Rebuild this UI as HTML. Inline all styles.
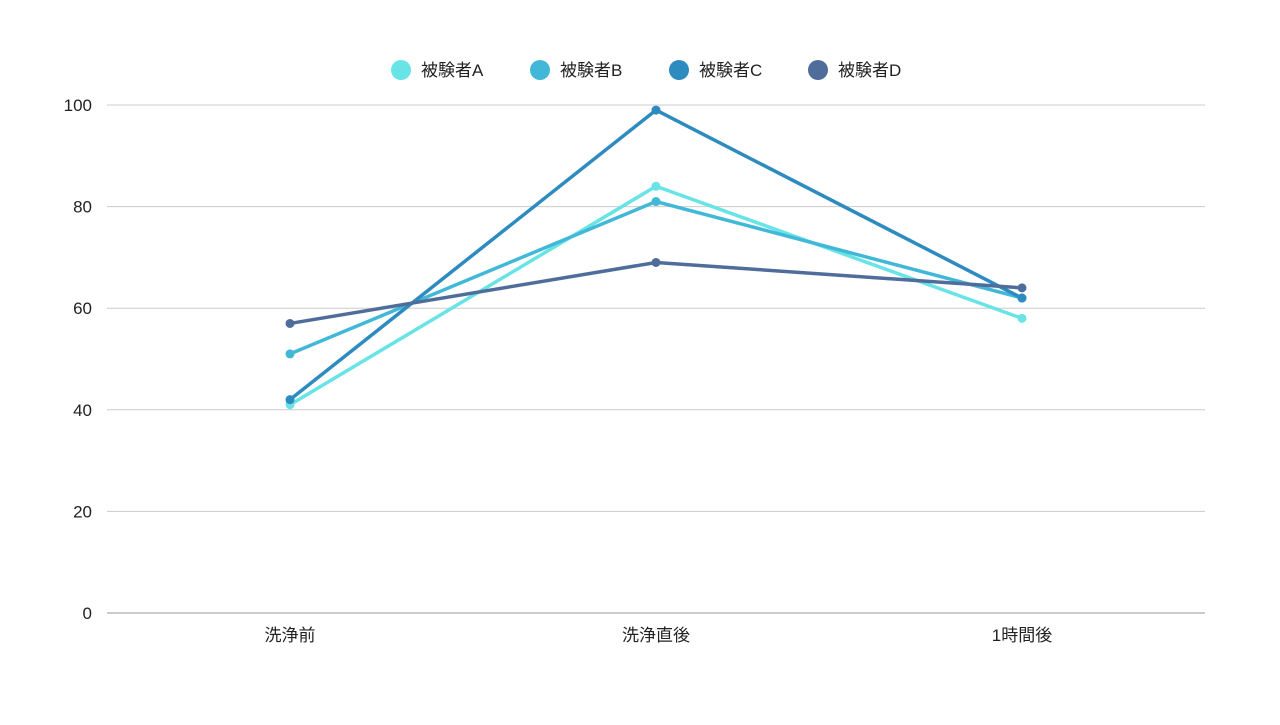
<!DOCTYPE html>
<html><head><meta charset="utf-8">
<style>
body{margin:0;background:#fff;font-family:"Liberation Sans","Noto Sans CJK JP",sans-serif;}
svg text{font-family:"Liberation Sans","Noto Sans CJK JP",sans-serif;}
</style></head>
<body>
<svg id="chart" width="1280" height="720" xmlns="http://www.w3.org/2000/svg"></svg>
<script>
const categories = ["洗浄前","洗浄直後","1時間後"];
const seriesNames = ["被験者A","被験者B","被験者C","被験者D"];
const seriesA = [41,84,58];
const seriesB = [51,81,62];
const seriesC = [42,99,62];
const seriesD = [57,69,64];
const yTicks = [0,20,40,60,80,100];

const colors = ["#68e3e6","#42b8d8","#2e8bbf","#4f6d9a"];
const allSeries = [seriesA,seriesB,seriesC,seriesD];
const svgEl = document.getElementById('chart');
const NS = "http://www.w3.org/2000/svg";
const plotLeft=107, plotRight=1205, plotTop=105, plotBottom=613, yMax=100;
const band=(plotRight-plotLeft)/categories.length;
const xs = i => plotLeft + band*(i+0.5);
const ys = v => plotBottom - (v/yMax)*(plotBottom-plotTop);
function mk(tag, attrs){const e=document.createElementNS(NS,tag);for(const k in attrs)e.setAttribute(k,attrs[k]);svgEl.appendChild(e);return e;}

yTicks.forEach(t=>{
  const g = mk('line',{x1:plotLeft,x2:plotRight,y1:ys(t),y2:ys(t),stroke:t===0?'#999':'#ccc','stroke-width':1});
  
  
  const tx = mk('text',{x:92,y:ys(t)+6,'text-anchor':'end','font-size':17,fill:'#222'});
  tx.textContent=t;
  
  
});
categories.forEach((c,i)=>{
  const tx = mk('text',{x:xs(i),y:641,'text-anchor':'middle','font-size':17,fill:'#222'});
  tx.textContent=c;
  
  
});
allSeries.forEach((s,si)=>{
  const pts = s.map((v,i)=>xs(i)+','+ys(v)).join(' ');
  const pl = mk('polyline',{points:pts,fill:'none',stroke:colors[si],'stroke-width':3.5,'stroke-linejoin':'round'});
  
  
  s.forEach((v,i)=>{
    const c = mk('circle',{cx:xs(i),cy:ys(v),r:4.5,fill:colors[si]});
    
    
  });
});
const legendX=[401,540,679,818];
seriesNames.forEach((n,i)=>{
  const c = mk('circle',{cx:legendX[i],cy:70,r:10,fill:colors[i]});
  
  
  const t = mk('text',{x:legendX[i]+20,y:76,'font-size':17,fill:'#222'});
  t.textContent=n;
  
  
});
</script>
</body></html>
